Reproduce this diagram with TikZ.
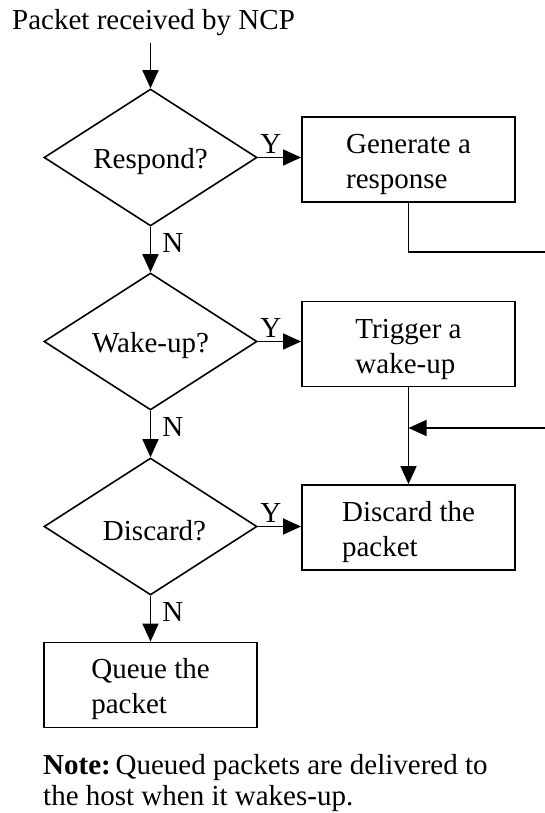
\documentclass[tikz,border=0pt]{standalone}
\usepackage{fontspec}
\setmainfont{Liberation Serif}
\usetikzlibrary{shapes.geometric,arrows.meta}
\begin{document}
\begin{tikzpicture}[x=1pt,y=-1pt,
  every node/.style={font=\fontsize{29}{35}\selectfont},
  decision/.style={diamond,draw,line width=1.6pt,minimum width=213pt,minimum height=137pt,inner sep=0pt,aspect=1.55},
  action/.style={rectangle,draw,line width=1.8pt,minimum width=213pt,minimum height=85pt,inner sep=0pt},
  boxtext/.style={inner sep=0pt,align=left},
  flow/.style={line width=1.6pt,-{Triangle[length=18pt,width=16pt]}},
  plain/.style={line width=1.6pt},
  lbl/.style={inner sep=0pt}]
\useasboundingbox (0,0) rectangle (545,813);

% entry text
\node[lbl,anchor=base west] (title) at (12,30) {Packet received by NCP};
\coordinate (start) at (150.5,43);

% decisions (shapes, then their questions set a little lower)
\node[decision] (d1) at (150.5,157.5) {};
\node[decision] (d2) at (150.5,341.5) {};
\node[decision] (d3) at (150.5,526.5) {};
\node[lbl] (q1) at ([yshift=-4pt]d1.center) {Respond?};
\node[lbl] (q2) at ([yshift=-4pt]d2.center) {Wake-up?};
\node[lbl,xshift=4pt] (q3) at ([yshift=-4pt]d3.center) {Discard?};

% actions
\node[action] (b1) at (408.5,159.5) {};
\node[action] (b2) at (408.5,344) {};
\node[action] (b3) at (408.5,527.5) {};
\node[action] (b4) at (150.5,685) {};
\node[boxtext] (t1) at ([yshift=-5pt]b1.center) {Generate a\\response};
\node[boxtext] (t2) at ([yshift=-5pt]b2.center) {Trigger a\\wake-up};
\node[boxtext] (t3) at ([yshift=-5pt]b3.center) {Discard the\\packet};
\node[boxtext] (t4) at ([yshift=-4pt]b4.center) {Queue the\\packet};

% main column
\draw[flow] (start) -- (d1.north);
\draw[flow] (d1.south) -- node[lbl,right=11pt,pos=0.35] (n1) {N} (d2.north);
\draw[flow] (d2.south) -- node[lbl,right=11pt,pos=0.35] (n2) {N} (d3.north);
\draw[flow] (d3.south) -- node[lbl,right=11pt,pos=0.35] (n3) {N} (b4.north);

% yes branches
\draw[flow] (d1.east) -- node[lbl,above=3pt,pos=0.3] (y1) {Y} (d1.east -| b1.west);
\draw[flow] (d2.east) -- node[lbl,above=3pt,pos=0.3] (y2) {Y} (d2.east -| b2.west);
\draw[flow] (d3.east) -- node[lbl,above=3pt,pos=0.3] (y3) {Y} (d3.east -| b3.west);

% response leaves to the right, a line from the right joins the discard path
\coordinate (out) at (545,252);
\coordinate (back) at (545,428);
\coordinate (merge) at (b2.south |- back);
\draw[plain] (b1.south) |- (out);
\draw[flow] (back) -- (merge);
\draw[flow] (b2.south) -- (b3.north);

% note
\node[lbl,anchor=base west] (note1) at (43,774) {\textbf{Note:}\,Queued packets are delivered to};
\node[lbl,anchor=base west] (note2) at (43,805) {the host when it wakes-up.};
\end{tikzpicture}
\end{document}
